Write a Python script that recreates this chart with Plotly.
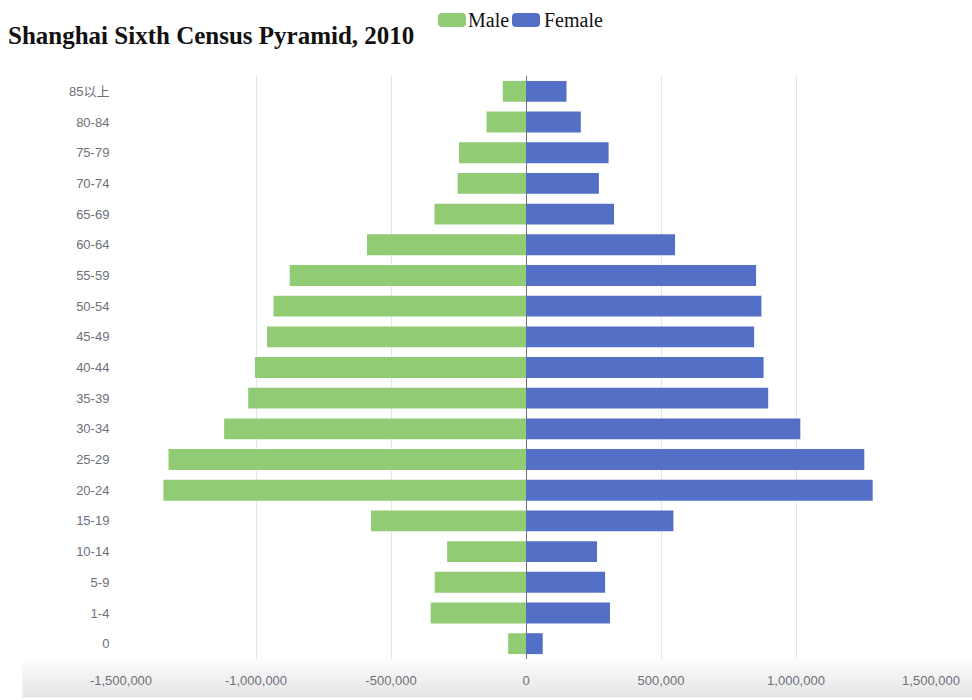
import plotly.graph_objects as go

# Age groups, youngest first (category axis draws the first entry at the bottom)
age_groups = ["0", "1-4", "5-9", "10-14", "15-19", "20-24", "25-29", "30-34",
              "35-39", "40-44", "45-49", "50-54", "55-59", "60-64", "65-69",
              "70-74", "75-79", "80-84", "85以上"]

male = [66000, 353000, 338000, 292000, 574000, 1343000, 1324000, 1118000,
        1029000, 1004000, 959000, 935000, 875000, 589000, 339000,
        253000, 248000, 146000, 86000]

female = [62000, 311000, 293000, 263000, 546000, 1284000, 1253000, 1016000,
          897000, 880000, 845000, 872000, 852000, 552000, 326000,
          270000, 306000, 203000, 150000]

x_tick_values = [-1500000, -1000000, -500000, 0, 500000, 1000000, 1500000]
x_tick_labels = ["-1,500,000", "-1,000,000", "-500,000", "0",
                 "500,000", "1,000,000", "1,500,000"]

title_text = "Shanghai Sixth Census Pyramid, 2010"
series_names = ["Male", "Female"]
series_colors = ["#91cc75", "#5470c6"]

# Page geometry (pixels)
W, H = 972, 700
L, R, T, B = 121, 38, 76, 37
PW, PH = W - L - R, H - T - B


def px_x(px):
    return (px - L) / PW


def px_y(py):
    return (H - B - py) / PH


def rounded_rect(x0, y0, x1, y1, r):
    # x/y in pixels relative to the shape anchor, y pointing up
    return (f"M{x0 + r},{y0} L{x1 - r},{y0} Q{x1},{y0} {x1},{y0 - r} "
            f"L{x1},{y1 + r} Q{x1},{y1} {x1 - r},{y1} L{x0 + r},{y1} "
            f"Q{x0},{y1} {x0},{y1 + r} L{x0},{y0 - r} Q{x0},{y0} {x0 + r},{y0} Z")


fig = go.Figure()
fig.add_trace(go.Bar(
    y=age_groups, x=[-v for v in male], orientation="h", name=series_names[0],
    marker=dict(color=series_colors[0], line=dict(width=0)),
    customdata=male, hovertemplate="%{y}: %{customdata:,}<extra>Male</extra>",
    showlegend=False,
))
fig.add_trace(go.Bar(
    y=age_groups, x=female, orientation="h", name=series_names[1],
    marker=dict(color=series_colors[1], line=dict(width=0)),
    hovertemplate="%{y}: %{x:,}<extra>Female</extra>",
    showlegend=False,
))

shapes = []
# soft grey band under the value axis
n_strips = 19
for i in range(n_strips):
    g = round(255 - (255 - 231) * ((i + 1) / n_strips) ** 0.8)
    shapes.append(dict(
        type="rect", layer="below", xref="paper", yref="paper",
        ysizemode="pixel", yanchor=0,
        x0=px_x(22), x1=px_x(W + 5), y0=-2 * i, y1=-2 * (i + 1) - 0.5,
        fillcolor=f"rgb({g},{g},{g})", line=dict(width=0),
    ))

# legend swatches
legend_boxes = [(438, 466), (512, 540)]
for (bx0, bx1), col in zip(legend_boxes, series_colors):
    shapes.append(dict(
        type="path", xref="paper", yref="paper",
        xsizemode="pixel", ysizemode="pixel", xanchor=0, yanchor=1,
        path=rounded_rect(bx0 - L, T - 13, bx1 - L, T - 27, 4),
        fillcolor=col, line=dict(width=0),
    ))

annotations = []
for name, lx in zip(series_names, [467, 544]):
    annotations.append(dict(
        text=name, xref="paper", yref="paper", x=px_x(lx), y=px_y(20),
        xanchor="left", yanchor="middle", showarrow=False,
        font=dict(family="Liberation Serif, Times New Roman, serif", size=20, color="#111"),
    ))

fig.update_layout(
    width=W, height=H,
    margin=dict(l=L, r=R, t=T, b=B),
    paper_bgcolor="white", plot_bgcolor="white",
    barmode="relative", bargap=0.32,
    title=dict(
        text=f"<b>{title_text}</b>", xref="container", yref="container",
        x=8 / W, xanchor="left", y=1 - 35 / H, yanchor="middle",
        font=dict(family="Liberation Serif, Times New Roman, serif", size=25, color="#111"),
    ),
    shapes=shapes,
    annotations=annotations,
    font=dict(family="Liberation Sans, Arial, Noto Sans CJK SC, sans-serif", size=13, color="#6E7079"),
    showlegend=False,
)

fig.update_xaxes(
    range=[-1500000, 1500000], tickvals=x_tick_values, ticktext=x_tick_labels,
    showgrid=True, gridcolor="#E0E6F1", gridwidth=1,
    zeroline=True, zerolinecolor="#6E7079", zerolinewidth=1,
    showline=False, ticks="outside", ticklen=9, tickcolor="rgba(0,0,0,0)",
    tickfont=dict(size=13, color="#6E7079"), fixedrange=True,
)
fig.update_yaxes(
    type="category", categoryorder="array", categoryarray=age_groups,
    showgrid=False, showline=False, zeroline=False,
    ticks="outside", ticklen=8, tickcolor="rgba(0,0,0,0)",
    tickfont=dict(size=13, color="#6E7079"), fixedrange=True,
)

fig.write_html("out.html")
